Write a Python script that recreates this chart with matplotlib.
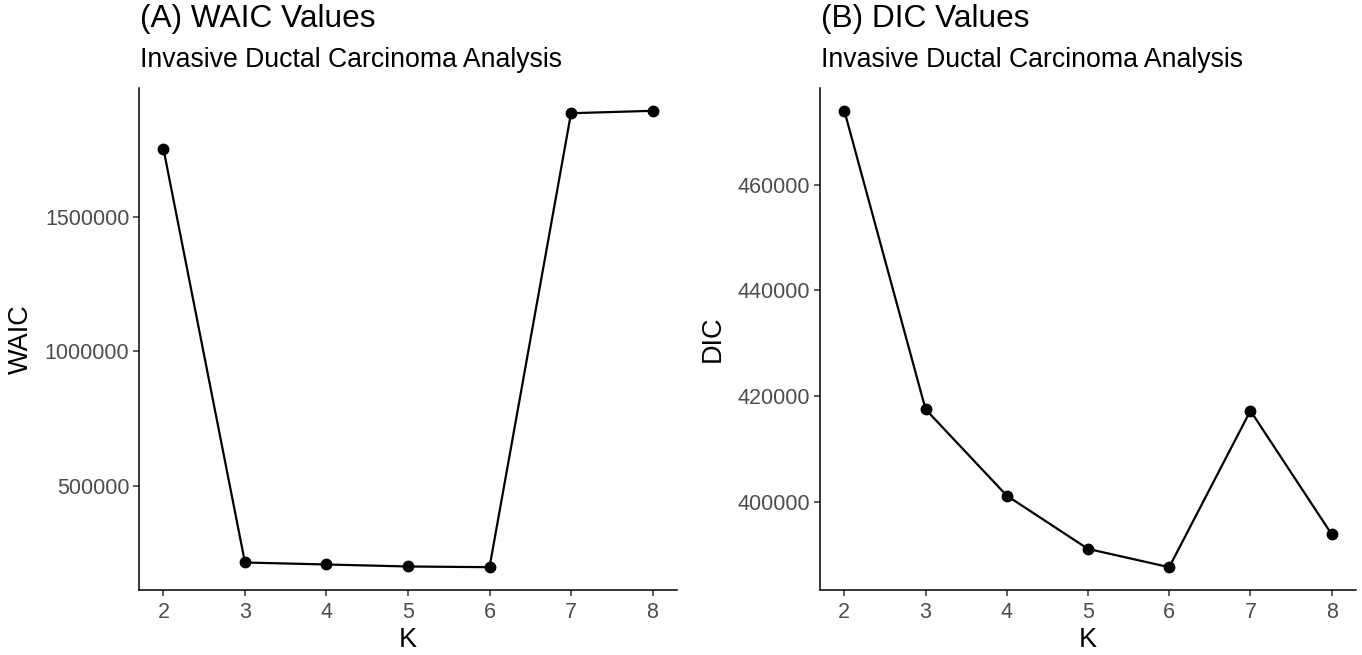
import matplotlib.pyplot as plt

plt.rcParams['font.family'] = ['Liberation Sans', 'DejaVu Sans']

# values
k = [2, 3, 4, 5, 6, 7, 8]
waic = [1751500, 216300, 208900, 201500, 198900, 1883800, 1892700]
dic = [474000, 417480, 401135, 391050, 387590, 417215, 393830]

W, H = 1362, 655
fig = plt.figure(figsize=(W / 100, H / 100), dpi=100)

panels = [
    # (left px, right px, values, ylabel, title, yticks, ylabel x px)
    (139, 677, waic, 'WAIC', '(A) WAIC Values', [500000, 1000000, 1500000], 21),
    (820, 1356, dic, 'DIC', '(B) DIC Values', [400000, 420000, 440000, 460000], 713),
]
top, bottom = 88, 590

for left, right, vals, ylab, title, yticks, ylab_x in panels:
    ax = fig.add_axes([left / W, 1 - bottom / H, (right - left) / W, (bottom - top) / H])
    ax.plot(k, vals, color='black', linewidth=1.6, marker='o', markersize=7.5)
    ax.set_xlim(1.7, 8.3)
    lo, hi = min(vals), max(vals)
    pad = (hi - lo) * 0.05
    ax.set_ylim(lo - pad, hi + pad)
    ax.set_xticks(k)
    ax.set_yticks(yticks)
    ax.set_yticklabels([str(t) for t in yticks])
    for side in ['top', 'right']:
        ax.spines[side].set_visible(False)
    for side in ['left', 'bottom']:
        ax.spines[side].set_linewidth(1.1)
    ax.tick_params(colors='#333333', labelsize=15.5, length=4, width=1.1, pad=3)
    ax.tick_params(axis='x', pad=5)
    ax.tick_params(labelcolor='#4D4D4D')
    fig.text((left + right) / 2 / W, 1 - 640 / H, 'K', fontsize=19.5,
             ha='center', va='center')
    fig.text(ylab_x / W, 1 - (top + bottom) / 2 / H, ylab, rotation=90,
             fontsize=19.5, ha='center', va='center')
    fig.text((left + 1) / W, 1 - 19 / H, title, fontsize=22.8, ha='left', va='center')
    fig.text((left + 1) / W, 1 - 60 / H, 'Invasive Ductal Carcinoma Analysis',
             fontsize=19.2, ha='left', va='center')

fig.savefig('out.png', dpi=100)
